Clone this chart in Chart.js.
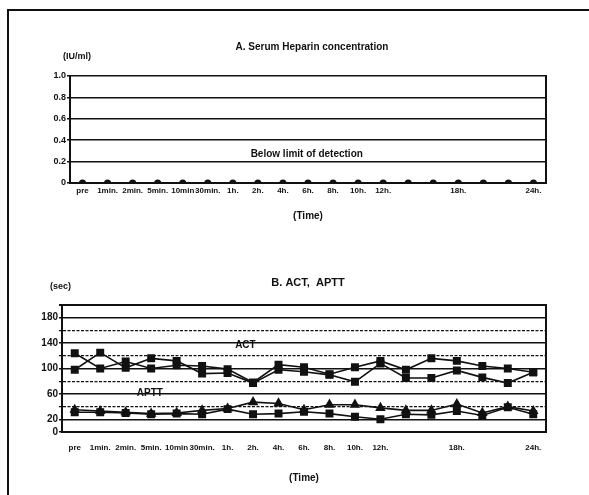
<!DOCTYPE html>
<html>
<head>
<meta charset="utf-8">
<script src="https://cdn.jsdelivr.net/npm/chart.js@4.4.1/dist/chart.umd.min.js"></script>
<style>
  body { margin: 0; background: #fff; width: 589px; height: 495px; overflow: hidden; position: relative; }
  .frame { position: absolute; left: 7px; top: 9px; width: 600px; height: 500px; border-left: 2px solid #111; border-top: 2px solid #111; }
  canvas { position: absolute; left: 0; }
  #heparin { top: 0; }
  #coag { top: 250px; }
</style>
</head>
<body>
<div class="frame"></div>
<canvas id="heparin" width="589" height="228"></canvas>
<canvas id="coag" width="589" height="240"></canvas>
<script>
// sampling times (19 draws); 14h, 16h, 20h, 22h have no printed label
var timePoints = ["pre", "1min.", "2min.", "5min.", "10min", "30min.", "1h.", "2h.", "4h.",
  "6h.", "8h.", "10h.", "12h.", "14h", "16h", "18h.", "20h", "22h", "24h."];
var unlabeled = ["14h", "16h", "20h", "22h"];

// A. serum heparin (IU/ml) - all below detection limit
var heparin = [0, 0, 0, 0, 0, 0, 0, 0, 0, 0, 0, 0, 0, 0, 0, 0, 0, 0, 0];

// B. ACT and APTT (sec)
var act1 = [124, 100, 111, 100, 105, 104, 99, 78, 106, 102, 91, 102, 112, 98, 116, 112, 104, 100, 94];
var act2 = [98, 125, 101, 116, 112, 92, 93, 77, 98, 95, 90, 79, 108, 85, 85, 97, 86, 77, 94];
var aptt1 = [35, 33, 31, 29, 30, 34, 37, 47, 45, 35, 43, 43, 38, 34, 34, 44, 30, 40, 33];
var aptt2 = [31, 31, 30, 28, 29, 28, 36, 28, 29, 32, 29, 24, 20, 28, 27, 33, 26, 39, 28];

var heparinTicks = [0, 0.2, 0.4, 0.6, 0.8, 1.0];
var coagGrid = [0, 20, 40, 60, 80, 100, 120, 140, 160, 180, 200];
var coagTicks = [0, 20, 60, 100, 140, 180];

var ink = "#111";
var font = "'Liberation Sans', Arial, sans-serif";

var decor = {
  id: "decor",
  afterDatasetsDraw: function (chart, args, opts) {
    var ctx = chart.ctx, area = chart.chartArea;
    var xs = chart.scales.x, ys = chart.scales.y;
    ctx.save();
    ctx.fillStyle = ink;
    ctx.textBaseline = "middle";
    ctx.textAlign = "center";
    ctx.font = opts.titleFont;
    ctx.fillText(opts.title, (area.left + area.right) / 2 + opts.titleDx, opts.titleY);
    ctx.textAlign = "left";
    ctx.font = "bold 9px " + font;
    ctx.fillText(opts.unit, opts.unitX, opts.unitY);
    ctx.textAlign = "center";
    opts.notes.forEach(function (n) {
      ctx.font = "bold 10px " + font;
      ctx.fillText(n.text, xs.getPixelForValue(n.at), ys.getPixelForValue(n.value));
    });
    ctx.restore();
  }
};

function fixedTicks(list) {
  return function (s) { s.ticks = list.map(function (v) { return { value: v }; }); };
}

function xAxis(height, pad) {
  return {
    type: "category",
    offset: true,
    grid: { display: false, drawTicks: false },
    border: { display: true, color: ink, width: 2 },
    ticks: {
      autoSkip: false, maxRotation: 0, padding: pad,
      color: ink, font: { family: font, size: 8, weight: "bold" },
      callback: function (v) {
        var l = timePoints[v];
        return unlabeled.indexOf(l) >= 0 ? "" : l;
      }
    },
    title: { display: true, text: "(Time)", color: ink, font: { family: font, size: 10, weight: "bold" }, padding: { top: 0, bottom: 6 } },
    afterFit: function (s) { s.height = height; }
  };
}

function rightBorder() {
  return {
    position: "right",
    grid: { display: false },
    border: { display: true, color: ink, width: 2 },
    ticks: { display: false },
    afterFit: function (s) { s.width = 0; }
  };
}

new Chart(document.getElementById("heparin"), {
  type: "line",
  data: {
    labels: timePoints,
    datasets: [{
      label: "Heparin (IU/ml)",
      data: heparin,
      borderColor: ink, backgroundColor: ink,
      borderWidth: 1.5, pointRadius: 2.8, pointStyle: "circle"
    }]
  },
  plugins: [decor],
  options: {
    responsive: false,
    animation: false,
    layout: { padding: { top: 76, right: 43, left: 0, bottom: 0 } },
    plugins: {
      legend: { display: false },
      tooltip: { enabled: false },
      decor: {
        title: "A. Serum Heparin concentration", titleFont: "bold 10px " + font,
        titleY: 47, titleDx: 4,
        unit: "(IU/ml)", unitX: 63, unitY: 57,
        notes: [{ text: "Below limit of detection", at: 8.95, value: 0.27 }]
      }
    },
    scales: {
      x: xAxis(45, 3),
      y: {
        min: 0, max: 1,
        afterBuildTicks: fixedTicks(heparinTicks),
        grid: { color: ink, lineWidth: 1.5, tickLength: 3 },
        border: { display: true, color: ink, width: 2 },
        ticks: {
          autoSkip: false, padding: 1, color: ink, font: { family: font, size: 9, weight: "bold" },
          callback: function (v) { return v === 0 ? "0" : v.toFixed(1); }
        },
        afterFit: function (s) { s.width = 70; }
      },
      y2: rightBorder()
    }
  }
});

new Chart(document.getElementById("coag"), {
  type: "line",
  data: {
    labels: timePoints,
    datasets: [
      { label: "ACT", data: act1, pointStyle: "rect" },
      { label: "ACT", data: act2, pointStyle: "rect" },
      { label: "APTT", data: aptt1, pointStyle: "triangle" },
      { label: "APTT", data: aptt2, pointStyle: "rect" }
    ].map(function (d) {
      d.borderColor = ink; d.backgroundColor = ink;
      d.borderWidth = 1.6; d.pointRadius = 4.5;
      return d;
    })
  },
  plugins: [decor],
  options: {
    responsive: false,
    animation: false,
    layout: { padding: { top: 55, right: 43, left: 0, bottom: 0 } },
    plugins: {
      legend: { display: false },
      tooltip: { enabled: false },
      decor: {
        title: "B. ACT,  APTT", titleFont: "bold 11px " + font,
        titleY: 33, titleDx: 4,
        unit: "(sec)", unitX: 50, unitY: 37,
        notes: [
          { text: "ACT", at: 6.7, value: 136 },
          { text: "APTT", at: 2.95, value: 60.6 }
        ]
      }
    },
    scales: {
      x: xAxis(58, 11),
      y: {
        min: 0, max: 200,
        afterBuildTicks: fixedTicks(coagGrid),
        ticks: {
          autoSkip: false, padding: 1, color: ink,
          font: { family: font, size: 10, weight: "bold" },
          callback: function (v) { return coagTicks.indexOf(v) >= 0 ? v : ""; }
        },
        grid: {
          color: ink, tickLength: 3,
          lineWidth: function (c) {
            if (!c.tick) return 1;
            var v = c.tick.value;
            if (v === 200) return 2;
            return coagTicks.indexOf(v) >= 0 ? 1.4 : 1.2;
          }
        },
        border: {
          display: true, color: ink, width: 2,
          dash: function (c) {
            if (!c.tick) return [];
            var v = c.tick.value;
            return (v === 200 || coagTicks.indexOf(v) >= 0) ? [] : [3, 1.5];
          }
        },
        afterFit: function (s) { s.width = 62; }
      },
      y2: rightBorder()
    }
  }
});
</script>
</body>
</html>
